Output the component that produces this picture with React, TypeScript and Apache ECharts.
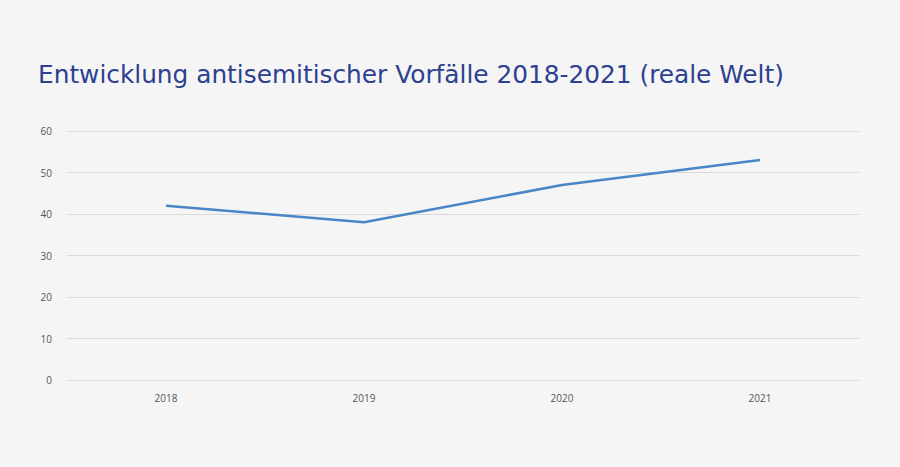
import React, { useEffect, useRef } from "react";
import * as echarts from "echarts";

const years = ["2018", "2019", "2020", "2021"];
const incidents = [42, 38, 47, 53];
const titleText = "Entwicklung antisemitischer Vorfälle 2018-2021 (reale Welt)";

export default function App() {
  const ref = useRef<HTMLDivElement>(null);
  useEffect(() => {
    const chart = echarts.init(ref.current!, null, { renderer: "svg" });
    chart.setOption({
      animation: false,
      backgroundColor: "#f5f5f5",
      title: {
        text: titleText,
        left: 38,
        top: 62,
        padding: 0,
        textStyle: {
          fontFamily: "'DejaVu Sans', 'Open Sans', sans-serif",
          fontSize: 24.8,
          fontWeight: "normal",
          color: "#2c4190",
        },
      },
      grid: { left: 67, right: 41, top: 131, bottom: 87 },
      xAxis: {
        type: "category",
        data: years,
        boundaryGap: true,
        axisLine: { show: false },
        axisTick: { show: false },
        axisLabel: {
          color: "#555",
          fontSize: 10,
          margin: 13,
          fontFamily: "'Open Sans', sans-serif",
        },
      },
      yAxis: {
        type: "value",
        min: 0,
        max: 60,
        interval: 10,
        axisLine: { show: false },
        axisTick: { show: false },
        splitLine: { lineStyle: { color: "#d9d9d9", width: 1 } },
        axisLabel: {
          color: "#555",
          fontSize: 10,
          margin: 15,
          fontFamily: "'Open Sans', sans-serif",
        },
      },
      series: [
        {
          type: "line",
          data: incidents,
          symbol: "none",
          lineStyle: { color: "#4a86c5", width: 2.5 },
          itemStyle: { color: "#4a86c5" },
        },
      ],
    });
    return () => chart.dispose();
  }, []);
  return <div ref={ref} style={{ width: 900, height: 467, position: "fixed", left: 0, top: 0 }} />;
}
